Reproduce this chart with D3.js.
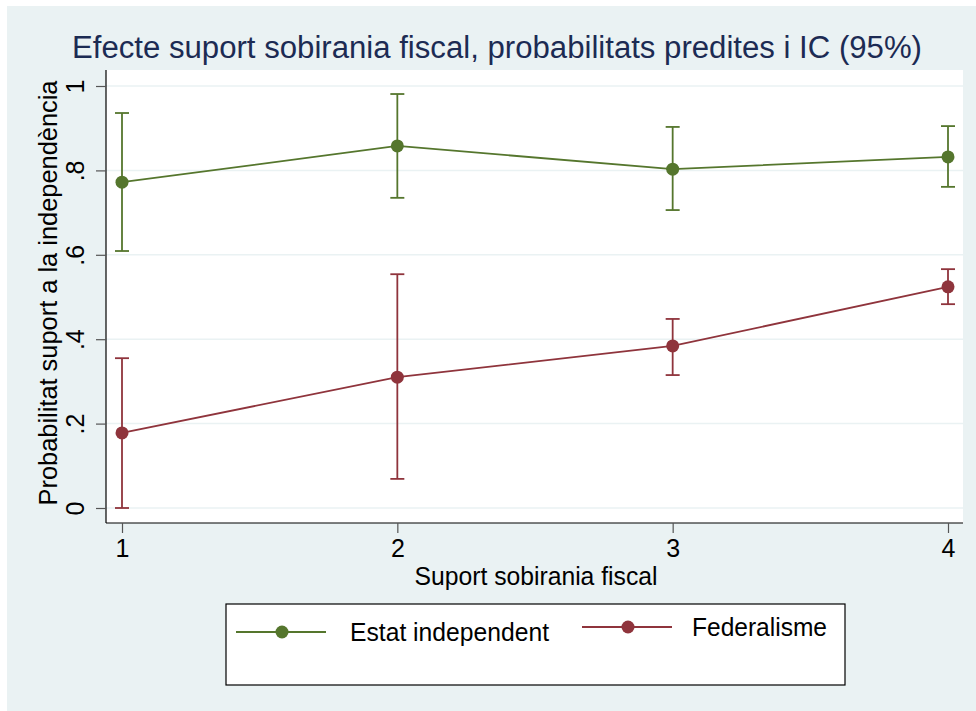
<!DOCTYPE html>
<html>
<head>
<meta charset="utf-8">
<script src="https://cdn.jsdelivr.net/npm/d3@7"></script>
<style>
  body { margin: 0; background: #fff; }
  svg { display: block; font-family: "Liberation Sans", Arial, sans-serif; }
</style>
</head>
<body>
<svg id="chart" width="976" height="711"></svg>
<script>
// values
const xValues = [1, 2, 3, 4]
const yTicks = [0, 0.2, 0.4, 0.6, 0.8, 1]
const yTickLabels = ["0", ".2", ".4", ".6", ".8", "1"]

const estatMean = [0.772, 0.858, 0.803, 0.832]
const estatLow = [0.609, 0.735, 0.706, 0.761]
const estatHigh = [0.936, 0.981, 0.903, 0.905]

const fedMean = [0.178, 0.310, 0.384, 0.524]
const fedLow = [0.000, 0.069, 0.315, 0.483]
const fedHigh = [0.355, 0.554, 0.448, 0.566]

const seriesNames = ["Estat independent", "Federalisme"]
const seriesColors = ["#55762d", "#8f343c"]

const svg = d3.select("#chart")

// outer graph region
svg.append("rect").attr("x", 7).attr("y", 6).attr("width", 969).attr("height", 705).attr("fill", "#eaf2f3")

// plot region
const plot = { left: 106, right: 963, top: 70, bottom: 523 }
svg.append("rect")
    .attr("x", plot.left).attr("y", plot.top)
    .attr("width", plot.right - plot.left).attr("height", plot.bottom - plot.top)
    .attr("fill", "#fff")

const x = d3.scaleLinear().domain([1, 4]).range([122, 948])
const y = d3.scaleLinear().domain([0, 1]).range([508, 86])

// gridlines
svg.append("g")
    .selectAll("line")
    .data(yTicks)
    .join("line")
    .attr("x1", plot.left).attr("x2", plot.right)
    .attr("y1", (d) => y(d)).attr("y2", (d) => y(d))
    .attr("stroke", "#eaf2f3").attr("stroke-width", 1.5)

// y axis
const yAxis = svg.append("g")
    .attr("transform", "translate(" + plot.left + ",0)")
    .call(d3.axisLeft(y).tickValues(yTicks).tickSize(10).tickFormat((d, i) => yTickLabels[i]))
yAxis.select(".domain").attr("d", "M0," + plot.top + "V" + plot.bottom).attr("stroke", "#000").attr("stroke-width", 1.2)
yAxis.selectAll(".tick line").attr("stroke", "#555").attr("stroke-width", 1.2)
yAxis.selectAll(".tick text")
    .attr("font-size", 25).attr("fill", "#000")
    .attr("text-anchor", "middle")
    .attr("x", 0).attr("y", 0).attr("dy", 0)
    .attr("transform", "translate(-22,0) rotate(-90)")

// x axis
const xAxis = svg.append("g")
    .attr("transform", "translate(0," + plot.bottom + ")")
    .call(d3.axisBottom(x).tickValues(xValues).tickSize(10).tickFormat(d3.format("d")))
xAxis.select(".domain").attr("d", "M" + plot.left + ",0H" + plot.right).attr("stroke", "#000").attr("stroke-width", 1.2)
xAxis.selectAll(".tick line").attr("stroke", "#555").attr("stroke-width", 1.2)
xAxis.selectAll(".tick text").attr("font-size", 25).attr("fill", "#000").attr("y", 34).attr("dy", 0)

// titles
svg.append("text")
    .attr("x", 497).attr("y", 58)
    .attr("text-anchor", "middle")
    .attr("font-size", 31).attr("fill", "#1c2b53")
    .attr("textLength", 850).attr("lengthAdjust", "spacingAndGlyphs")
    .text("Efecte suport sobirania fiscal, probabilitats predites i IC (95%)")

svg.append("text")
    .attr("x", 536).attr("y", 585)
    .attr("text-anchor", "middle")
    .attr("font-size", 25).attr("fill", "#000")
    .attr("textLength", 243).attr("lengthAdjust", "spacingAndGlyphs")
    .text("Suport sobirania fiscal")

svg.append("text")
    .attr("transform", "translate(57,293) rotate(-90)")
    .attr("text-anchor", "middle")
    .attr("font-size", 25).attr("fill", "#000")
    .attr("textLength", 425).attr("lengthAdjust", "spacingAndGlyphs")
    .text("Probabilitat suport a la independència")

// series
const series = [
    { mean: estatMean, low: estatLow, high: estatHigh, color: seriesColors[0] },
    { mean: fedMean, low: fedLow, high: fedHigh, color: seriesColors[1] },
]

const line = d3.line().x((d) => x(d[0])).y((d) => y(d[1]))

series.forEach((s) => {
    const g = svg.append("g")
    const pts = xValues.map((xv, i) => ({ x: xv, m: s.mean[i], lo: s.low[i], hi: s.high[i] }))

    g.append("path")
        .attr("d", line(pts.map((p) => [p.x, p.m])))
        .attr("fill", "none").attr("stroke", s.color).attr("stroke-width", 1.8)

    g.selectAll("line.bar").data(pts).join("line").attr("class", "bar")
        .attr("x1", (d) => x(d.x)).attr("x2", (d) => x(d.x))
        .attr("y1", (d) => y(d.lo)).attr("y2", (d) => y(d.hi))
        .attr("stroke", s.color).attr("stroke-width", 1.8)
    g.selectAll("line.capHi").data(pts).join("line").attr("class", "capHi")
        .attr("x1", (d) => x(d.x) - 7).attr("x2", (d) => x(d.x) + 7)
        .attr("y1", (d) => y(d.hi)).attr("y2", (d) => y(d.hi))
        .attr("stroke", s.color).attr("stroke-width", 1.8)
    g.selectAll("line.capLo").data(pts).join("line").attr("class", "capLo")
        .attr("x1", (d) => x(d.x) - 7).attr("x2", (d) => x(d.x) + 7)
        .attr("y1", (d) => y(d.lo)).attr("y2", (d) => y(d.lo))
        .attr("stroke", s.color).attr("stroke-width", 1.8)

    g.selectAll("circle").data(pts).join("circle")
        .attr("cx", (d) => x(d.x)).attr("cy", (d) => y(d.m))
        .attr("r", 6.5).attr("fill", s.color)
})

// legend
svg.append("rect")
    .attr("x", 226).attr("y", 604).attr("width", 619).attr("height", 81)
    .attr("fill", "#fff").attr("stroke", "#000").attr("stroke-width", 1.2)

const legendItems = [
    { x0: 236, y0: 632, tx: 350, ty: 641, w: 199 },
    { x0: 582, y0: 627, tx: 692, ty: 636, w: 135 },
]
legendItems.forEach((p, i) => {
    svg.append("line")
        .attr("x1", p.x0).attr("x2", p.x0 + 90).attr("y1", p.y0).attr("y2", p.y0)
        .attr("stroke", seriesColors[i]).attr("stroke-width", 1.8)
    svg.append("circle").attr("cx", p.x0 + 46).attr("cy", p.y0).attr("r", 6.5).attr("fill", seriesColors[i])
    svg.append("text")
        .attr("x", p.tx).attr("y", p.ty)
        .attr("font-size", 25).attr("fill", "#000")
        .attr("textLength", p.w).attr("lengthAdjust", "spacingAndGlyphs")
        .text(seriesNames[i])
})
</script>
</body>
</html>
